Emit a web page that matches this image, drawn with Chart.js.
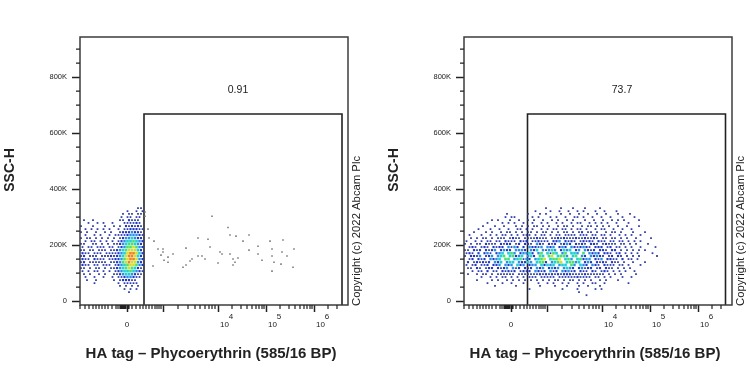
<!DOCTYPE html>
<html lang="en">
<head>
    <meta charset="UTF-8">
    <title>HA tag flow cytometry</title>
    <style>
        html, body { margin: 0; width: 750px; height: 375px; background: #fff; overflow: hidden; }
        canvas { position: absolute; top: 0; filter: blur(0.4px); }
        #leftPlot { left: 0; }
        #rightPlot { left: 384px; }
    </style>
    <script src="https://cdn.jsdelivr.net/npm/chart.js"></script>
</head>
<body>
    <canvas id="leftPlot" width="384" height="375"></canvas>
    <canvas id="rightPlot" width="366" height="375"></canvas>

    <script>
        // x is the biexponential display channel, y is SSC-H in thousands
        const xMajorTicks = [47, 83, 138, 186, 234];
        const xTickNames = ['0', '10^3', '10^4', '10^5', '10^6'];
        const xMinorTicks = [0, 5, 9, 13, 16, 19, 22, 25, 28, 32, 36, 38, 40, 41, 42, 43, 44, 45, 46, 48, 49, 52, 56, 60, 63, 66, 69, 72, 75, 77, 79, 81,
            98, 108, 115, 120, 125, 129, 132, 135, 152, 161, 167, 172, 176, 179, 182, 184, 200, 209, 215, 220, 224, 227, 230, 232, 248, 257];
        const yMajorTicks = [0, 200, 400, 600, 800];
        const yMinorTicks = [50, 100, 150, 250, 300, 350, 450, 500, 550, 650, 700, 750, 850, 900];

        const leftGateX = [64, 64, 262, 262];
        const rightGateX = [63.5, 63.5, 261.5, 261.5];
        const gateY = [-14, 668, 668, -14];
        const leftPercent = '0.91';
        const rightPercent = '73.7';

        // hexagonal density bins: one digit per cell, 0 = empty, 7 = hottest
        const binY = [332, 321, 311, 300, 289, 279, 268, 257, 246, 236, 225, 214, 204, 193, 182, 171, 161, 150, 139, 129, 118, 107, 96, 86, 75, 64, 54, 43, 32, 21];
        const leftBinX = [1, 4, 7, 10, 13, 16, 19, 22, 25, 28, 31, 34, 37, 40, 43, 46, 49, 52, 55, 58, 61, 64];
        const leftRows = [
            '0000000000000000000110',
            '0000000000000001001010',
            '0000000000000010110110',
            '0000000000000101101100',
            '0100100000000110211100',
            '0010010100100011112100',
            '1000100010010102121210',
            '0101010101001011222110',
            '1010010010100122232210',
            '0100101001011112333210',
            '1011010101010123343220',
            '0101101010101234454320',
            '1100110101011234554320',
            '1011011101101235565320',
            '1101101110112345666420',
            '2110111011112346776420',
            '1201110111212346776420',
            '2110211101122356776320',
            '1201111110112356766320',
            '2110110111012345665320',
            '1101011010112345654210',
            '1010110101012344543210',
            '0101001010011234432110',
            '0100100100101123321100',
            '0010010000010122211000',
            '0000100000001011111000',
            '0000000000000101010100',
            '0000000000000010101000',
            '0000000000000000100000'
        ];
        const rightBinX = [1, 4, 7, 10, 13, 16, 19, 22, 25, 28, 31, 34, 37, 40, 43, 46, 49, 52, 55, 58, 61, 64, 67, 70, 73, 76, 79, 82, 85, 88, 91, 94, 97,
            100, 103, 106, 109, 112, 115, 118, 121, 124, 127, 130, 133, 136, 139, 142, 145, 148, 151, 154, 157, 160, 163, 166, 169, 172, 175, 178, 181, 184, 187, 190, 193, 196, 199];
        const rightRows = [
            '0000000000 0000000000 0000000100 0010001000 1000010000 0000000000 0000000',
            '0000000000 0000000000 0001000010 0100100101 0001001000 1000000000 0000000',
            '0000000000 0000100000 0100010100 0010010010 0100100100 0100010000 0000000',
            '0000000000 0001011000 0010100010 1001001101 0010010010 0010001000 0000000',
            '0000000001 0100010010 0101001001 0100101000 1001001001 0101000010 0000000',
            '0000000100 0010101001 0010010100 1010010110 0101010100 1000100000 0000000',
            '0000001000 1001000101 0101101010 0101101001 0110101010 0100100010 0000000',
            '0000100010 0100100110 1010010101 1011010110 1001011001 0010010000 0000000',
            '0001000101 0010110101 0110101101 0101101012 0110100101 1010001000 1000000',
            '0100010010 1011010101 1101011010 1101111011 1011011010 0101010010 0000000',
            '0010101101 0111012110 1111211101 1212111211 2112101101 1010100100 0010000',
            '1001010110 1102111021 2011211102 2302121012 1210211011 0110101010 0000000',
            '1010110211 1021220120 2210321021 2012320212 1022101211 1011010100 0100000',
            '0121012102 1220313202 0322130323 0232032123 2102220120 1101010010 0001000',
            '1102120212 3023220333 2032403134 3024340230 3212022102 2010101010 1000000',
            '1210202310 2340453023 3420350415 4035044305 0323202210 1201010100 0010000',
            '1022130123 0345045234 0342054056 0455304503 2032321012 0210101010 0000100',
            '0120212032 3405503451 3203456045 5604530452 3302130221 1020110100 0000000',
            '0201212120 3240344032 2430455203 4560455340 2320212102 1101001000 1000000',
            '1012011202 2303230423 0233042434 0344053043 2032102111 0110100010 0000000',
            '0110210122 0212303120 2120323023 2303432023 1220120211 0101010000 0000000',
            '0010110201 1021212012 1203212031 2032312021 1021012101 0101001000 0000000',
            '0100101101 0111111011 1111121212 1212221111 2111111010 1010000100 0000000',
            '0000010010 1011010101 0111011111 0111111211 1101101010 0010010000 0000000',
            '0000100001 0100101010 1010101010 1101011010 1010010100 0100000000 0000000',
            '0000000100 0010010001 0000100101 0010100101 0011001000 0000100000 0000000',
            '0000000000 1000000100 0000010000 1000100010 0100010000 0000000000 0000000',
            '0000000000 0000000000 0100000000 0010000100 0001010000 0000000000 0000000',
            '0000000000 0000000000 0000000000 0000000010 0000000000 0000000000 0000000',
            '0000000000 0000000000 0000000000 0000000000 1000000000 0000000000 0000000'
        ];
        // events scattered inside the gate of the left plot
        const leftSparseX = [132, 148, 150, 156, 169, 118, 128, 163, 190, 203, 69, 74, 130, 178, 192, 214, 106, 78, 83, 83, 169, 140, 142, 93, 81, 150, 178, 202, 207, 192, 88, 118, 122, 125, 112, 110, 84, 88, 158, 153, 155, 138, 182, 194, 201, 106, 103, 153, 213, 73, 192, 65, 65, 68];
        const leftSparseY = [303, 263, 236, 232, 236, 225, 221, 214, 214, 218, 225, 214, 193, 196, 186, 186, 189, 186, 186, 175, 182, 175, 168, 168, 164, 168, 168, 175, 161, 161, 157, 161, 161, 150, 150, 143, 146, 139, 154, 150, 139, 136, 146, 139, 132, 129, 121, 129, 121, 125, 107, 318, 303, 257];

        const densityColors = ['#2f3ea8', '#2238c4', '#2a8fe6', '#22d0d4', '#4cdf70', '#d4dc30', '#ee8420'];
        const densityRadius = [1.25, 1.5, 1.7, 1.9, 1.9, 1.9, 1.9];
        const hexShift = 1.5;
        const inkColor = '#222';

        function densityDatasets(rows, binX) {
            return densityColors.map((color, i) => {
                const data = [];
                rows.forEach((row, r) => {
                    row.split(' ').join('').split('').forEach((digit, c) => {
                        if (Number(digit) === i + 1) data.push({ x: binX[c] + (r % 2 ? hexShift : 0), y: binY[r] });
                    });
                });
                return { data, pointStyle: 'rect', pointRadius: densityRadius[i], borderWidth: 0, backgroundColor: color };
            });
        }

        function zipPoints(xs, ys) {
            return xs.map((x, i) => ({ x, y: ys[i] }));
        }

        // frame, minor ticks and all the text the scales do not place themselves
        const plotDecor = {
            id: 'plotDecor',
            afterDraw(chart, args, opts) {
                const { ctx, chartArea, scales } = chart;
                ctx.save();
                ctx.strokeStyle = '#3c3c3c';
                ctx.lineWidth = 1.5;
                ctx.strokeRect(chartArea.left, chartArea.top, chartArea.right - chartArea.left, chartArea.bottom - chartArea.top);

                ctx.strokeStyle = inkColor;
                ctx.lineWidth = 1.2;
                ctx.beginPath();
                xMinorTicks.forEach(v => {
                    const px = scales.x.getPixelForValue(v);
                    ctx.moveTo(px, chartArea.bottom);
                    ctx.lineTo(px, chartArea.bottom + 4);
                });
                yMinorTicks.forEach(v => {
                    const py = scales.y.getPixelForValue(v);
                    ctx.moveTo(chartArea.left, py);
                    ctx.lineTo(chartArea.left - 4, py);
                });
                ctx.stroke();

                ctx.fillStyle = inkColor;
                ctx.textAlign = 'center';
                ctx.textBaseline = 'middle';
                xMajorTicks.forEach((v, i) => {
                    const px = scales.x.getPixelForValue(v);
                    const parts = xTickNames[i].split('^');
                    if (parts.length === 1) {
                        ctx.font = '8px "Liberation Sans"';
                        ctx.fillText(parts[0], px, 325);
                    } else if (parts[1] !== '3') {
                        ctx.font = '8px "Liberation Sans"';
                        ctx.fillText(parts[0], px + 6.5, 325);
                        ctx.fillText(parts[1], px + 13, 317);
                    }
                });

                ctx.font = '10.5px "Liberation Sans"';
                ctx.fillText(opts.percent, scales.x.getPixelForValue(158), scales.y.getPixelForValue(753));

                ctx.font = 'bold 15px "Liberation Sans"';
                ctx.fillText('HA tag \u2013 Phycoerythrin (585/16 BP)', 211, 354);

                ctx.save();
                ctx.translate(10, 170);
                ctx.rotate(-Math.PI / 2);
                ctx.font = 'bold 14px "Liberation Sans"';
                ctx.fillText('SSC-H', 0, 0);
                ctx.restore();

                ctx.save();
                ctx.translate(357, 306);
                ctx.rotate(-Math.PI / 2);
                ctx.textAlign = 'left';
                ctx.font = '11.3px "Liberation Sans"';
                ctx.fillText('Copyright (c) 2022 Abcam Plc', 0, 0);
                ctx.restore();
                ctx.restore();
            }
        };

        function makePlot(canvasId, rows, binX, gateX, sparse, percent, rightPad) {
            const datasets = densityDatasets(rows, binX);
            if (sparse.length) {
                datasets.push({ data: sparse, pointStyle: 'rect', pointRadius: 1.1, borderWidth: 0, backgroundColor: '#77777f' });
            }
            datasets.push({
                data: zipPoints(gateX, gateY),
                showLine: true,
                pointRadius: 0,
                borderColor: '#222',
                borderWidth: 1.6,
                fill: false
            });
            return new Chart(document.getElementById(canvasId), {
                type: 'scatter',
                data: { datasets },
                plugins: [plotDecor],
                options: {
                    responsive: false,
                    animation: false,
                    layout: { padding: { left: 0, top: 37, right: rightPad, bottom: 0 } },
                    plugins: { legend: { display: false }, tooltip: { enabled: false }, plotDecor: { percent } },
                    scales: {
                        x: {
                            type: 'linear',
                            min: 0,
                            max: 268,
                            afterBuildTicks: s => { s.ticks = xMajorTicks.map(value => ({ value })); },
                            afterFit: s => { s.height = 70; },
                            ticks: { display: false },
                            border: { display: false },
                            grid: { drawOnChartArea: false, tickLength: 7, tickWidth: 1.5, tickColor: inkColor }
                        },
                        y: {
                            type: 'linear',
                            min: -14,
                            max: 943,
                            afterBuildTicks: s => { s.ticks = yMajorTicks.map(value => ({ value })); },
                            afterFit: s => { s.width = 80; },
                            ticks: {
                                padding: 5,
                                color: inkColor,
                                font: { family: '"Liberation Sans"', size: 7.5 },
                                callback: v => (v === 0 ? '0' : v + 'K')
                            },
                            border: { display: false },
                            grid: { drawOnChartArea: false, tickLength: 8, tickWidth: 1.5, tickColor: inkColor }
                        }
                    }
                }
            });
        }

        makePlot('leftPlot', leftRows, leftBinX, leftGateX, zipPoints(leftSparseX, leftSparseY), leftPercent, 36);
        makePlot('rightPlot', rightRows, rightBinX, rightGateX, [], rightPercent, 18);
    </script>
</body>
</html>
